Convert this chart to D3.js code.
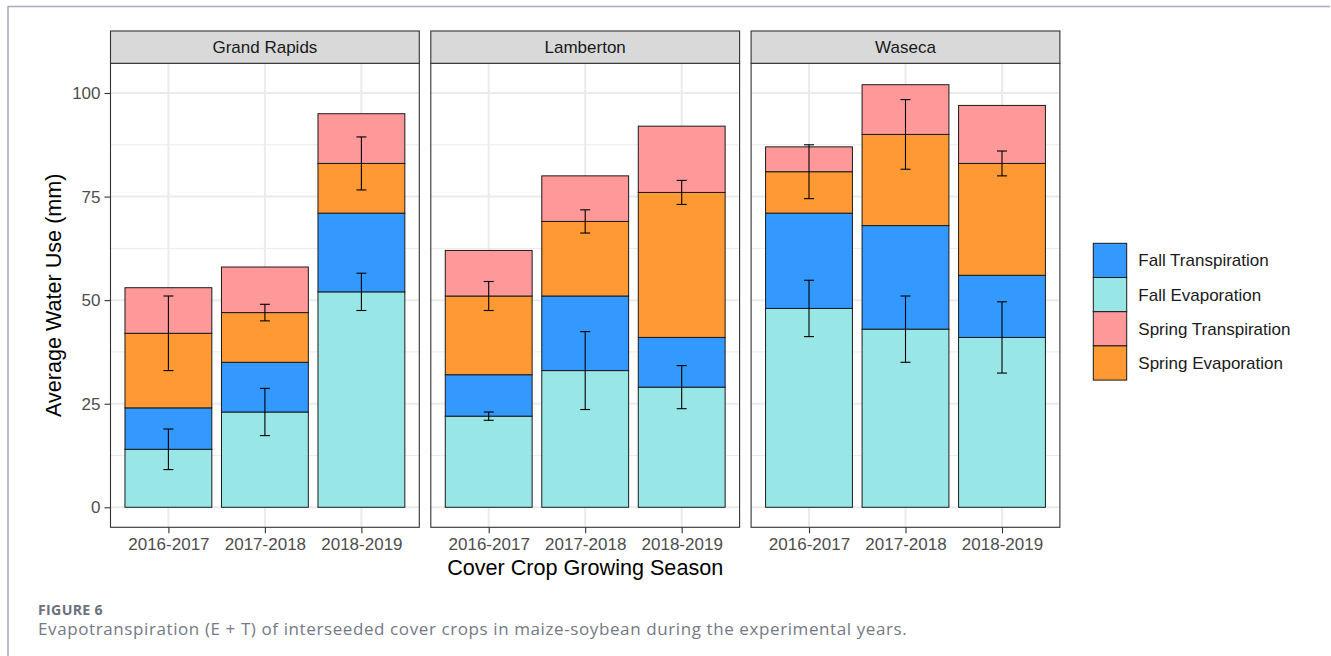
<!DOCTYPE html>
<html>
<head>
<meta charset="utf-8">
<script src="https://cdn.jsdelivr.net/npm/d3@7"></script>
<style>
  body { margin: 0; background: #fff; }
  svg text { font-family: "Liberation Sans", Arial, sans-serif; }
  svg text.caption { font-family: "Open Sans", sans-serif; }
</style>
</head>
<body>
<svg id="chart"></svg>
<script>
let width = 1331;
let height = 656;

// facets and categories
let sites = ["Grand Rapids", "Lamberton", "Waseca"];
let seasons = ["2016-2017", "2017-2018", "2018-2019"];

// stacked components, bottom to top; values listed site by site, season by season
let fallEvap     = [14, 23, 52,  22, 33, 29,  48, 43, 41];
let fallTransp   = [10, 12, 19,  10, 18, 12,  23, 25, 15];
let springEvap   = [18, 12, 12,  19, 18, 35,  10, 22, 27];
let springTransp = [11, 11, 12,  11, 11, 16,   6, 12, 14];

// error bar half widths (fall one sits on Fall Evaporation, spring one on Spring Evaporation)
let fallErr   = [4.9, 5.7, 4.5,  1.0, 9.4, 5.2,  6.8, 8.0, 8.6];
let springErr = [9.0, 2.0, 6.4,  3.5, 2.8, 2.9,  6.5, 8.4, 3.0];

let stackKeys = ["Fall Evaporation", "Fall Transpiration", "Spring Evaporation", "Spring Transpiration"];
let legendKeys = ["Fall Transpiration", "Fall Evaporation", "Spring Transpiration", "Spring Evaporation"];
let colors = ["#99e6e6", "#3399ff", "#ff9933", "#ff9999"];
let yTicks = [0, 25, 50, 75, 100];
let yMinor = [12.5, 37.5, 62.5, 87.5];

let table = [];
sites.forEach((s, i) => seasons.forEach((y, j) => {
  let k = i * 3 + j;
  table.push({
    site: s, season: y,
    "Fall Evaporation": fallEvap[k],
    "Fall Transpiration": fallTransp[k],
    "Spring Evaporation": springEvap[k],
    "Spring Transpiration": springTransp[k],
    fallErr: fallErr[k], springErr: springErr[k]
  });
}));

let series = d3.stack().keys(stackKeys)(table);
let color = d3.scaleOrdinal().domain(stackKeys).range(colors);

let svg = d3.select('#chart')
  .attr('width', width)
  .attr('height', height);

// page frame
svg.append('path')
  .attr('d', 'M8,656 V6.5 H1330')
  .attr('fill', 'none')
  .attr('stroke', '#a9a9b8')
  .attr('stroke-width', 1.5);

let panelTop = 63.3, panelBottom = 527.3, stripTop = 31;
let panelLeft = 110.5, panelW = 308.8, panelGap = 11.5;

let yax = d3.scaleLinear()
  .domain([-4.83, 107.17])
  .range([panelBottom, panelTop]);

let xFacet = d3.scaleBand()
  .domain(sites)
  .range([panelLeft, panelLeft + 3 * panelW + 2 * panelGap])
  .paddingInner(panelGap / (panelW + panelGap));

sites.forEach(site => {
  let x0 = xFacet(site);
  let xax = d3.scaleLinear().domain([0.4, 3.6]).range([x0, x0 + panelW]);
  let xpos = d => xax(seasons.indexOf(d) + 1);
  let g = svg.append('g');

  // grid
  g.selectAll('.minor').data(yMinor).join('line')
    .attr('x1', x0).attr('x2', x0 + panelW)
    .attr('y1', d => yax(d)).attr('y2', d => yax(d))
    .attr('stroke', '#ebebeb').attr('stroke-width', 1);
  g.selectAll('.major').data(yTicks).join('line')
    .attr('x1', x0).attr('x2', x0 + panelW)
    .attr('y1', d => yax(d)).attr('y2', d => yax(d))
    .attr('stroke', '#ebebeb').attr('stroke-width', 2);
  g.selectAll('.vgrid').data(seasons).join('line')
    .attr('x1', xpos).attr('x2', xpos)
    .attr('y1', panelTop).attr('y2', panelBottom)
    .attr('stroke', '#ebebeb').attr('stroke-width', 2);

  // bars
  let bw = xax(1.9) - xax(1);
  series.forEach(ser => {
    g.selectAll(null)
      .data(ser.filter(d => d.data.site === site))
      .join('rect')
      .attr('x', d => xpos(d.data.season) - bw / 2)
      .attr('width', bw)
      .attr('y', d => yax(d[1]))
      .attr('height', d => yax(d[0]) - yax(d[1]))
      .attr('fill', color(ser.key))
      .attr('stroke', '#1a1a1a')
      .attr('stroke-width', 1);
  });

  // error bars
  let rows = table.filter(d => d.site === site);
  let errs = [];
  rows.forEach(d => {
    let fe = d["Fall Evaporation"];
    let se = fe + d["Fall Transpiration"] + d["Spring Evaporation"];
    errs.push({season: d.season, lo: fe - d.fallErr, hi: fe + d.fallErr});
    errs.push({season: d.season, lo: se - d.springErr, hi: se + d.springErr});
  });
  let cap = 5;
  let eg = g.selectAll('.err').data(errs).join('g');
  eg.append('line')
    .attr('x1', d => xpos(d.season)).attr('x2', d => xpos(d.season))
    .attr('y1', d => yax(d.lo)).attr('y2', d => yax(d.hi));
  eg.append('line')
    .attr('x1', d => xpos(d.season) - cap).attr('x2', d => xpos(d.season) + cap)
    .attr('y1', d => yax(d.lo)).attr('y2', d => yax(d.lo));
  eg.append('line')
    .attr('x1', d => xpos(d.season) - cap).attr('x2', d => xpos(d.season) + cap)
    .attr('y1', d => yax(d.hi)).attr('y2', d => yax(d.hi));
  eg.selectAll('line').attr('stroke', '#000').attr('stroke-width', 1.1);

  // panel border
  g.append('rect')
    .attr('x', x0).attr('y', panelTop)
    .attr('width', panelW).attr('height', panelBottom - panelTop)
    .attr('fill', 'none').attr('stroke', '#333').attr('stroke-width', 1.1);

  // strip
  g.append('rect')
    .attr('x', x0).attr('y', stripTop)
    .attr('width', panelW).attr('height', panelTop - stripTop)
    .attr('fill', '#d9d9d9').attr('stroke', '#333').attr('stroke-width', 1.1);
  g.append('text')
    .attr('x', x0 + panelW / 2).attr('y', (stripTop + panelTop) / 2)
    .attr('dy', '0.35em')
    .attr('text-anchor', 'middle')
    .attr('font-size', 17)
    .attr('fill', '#1a1a1a')
    .text(site);

  // x axis
  let xAxis = g.append('g')
    .attr('transform', `translate(0,${panelBottom})`)
    .call(d3.axisBottom(d3.scalePoint().domain(seasons).range([xax(1), xax(3)]))
      .tickSize(6).tickPadding(5));
  xAxis.select('.domain').remove();
  xAxis.selectAll('line').attr('stroke', '#333').attr('stroke-width', 1.1);
  xAxis.selectAll('text').attr('font-size', 17).attr('fill', '#4d4d4d')
    .attr('font-family', null);
});

// y axis
let yAxis = svg.append('g')
  .attr('transform', `translate(${panelLeft},0)`)
  .call(d3.axisLeft(yax).tickValues(yTicks).tickSize(6).tickPadding(4));
yAxis.select('.domain').remove();
yAxis.selectAll('line').attr('stroke', '#333').attr('stroke-width', 1.1);
yAxis.selectAll('text').attr('font-size', 17).attr('fill', '#4d4d4d');

// axis titles
svg.append('text')
  .attr('transform', `translate(61,${(panelTop + panelBottom) / 2}) rotate(-90)`)
  .attr('text-anchor', 'middle')
  .attr('font-size', 21.6)
  .attr('fill', '#000')
  .text('Average Water Use (mm)');

svg.append('text')
  .attr('x', (panelLeft + xFacet('Waseca') + panelW) / 2)
  .attr('y', 575)
  .attr('text-anchor', 'middle')
  .attr('font-size', 21.6)
  .attr('fill', '#000')
  .text('Cover Crop Growing Season');

// legend
let keyW = 33.4, keyH = 34.2, legX = 1093.3, legY = 243.3;
let leg = svg.append('g').selectAll('g').data(legendKeys).join('g')
  .attr('transform', (d, i) => `translate(${legX},${legY + i * keyH})`);
leg.append('rect')
  .attr('width', keyW).attr('height', keyH)
  .attr('fill', d => color(d))
  .attr('stroke', '#1a1a1a').attr('stroke-width', 1);
leg.append('text')
  .attr('x', 45).attr('y', keyH / 2).attr('dy', '0.35em')
  .attr('font-size', 17).attr('fill', '#1a1a1a')
  .text(d => d);

// caption
svg.append('text')
  .attr('class', 'caption')
  .attr('x', 38).attr('y', 615)
  .attr('font-size', 14.2).attr('font-weight', 700)
  .attr('letter-spacing', 0.3)
  .attr('fill', '#6b717d')
  .text('FIGURE 6');
svg.append('text')
  .attr('class', 'caption')
  .attr('x', 38).attr('y', 635)
  .attr('font-size', 17)
  .attr('letter-spacing', 0.6)
  .attr('fill', '#737985')
  .text('Evapotranspiration (E + T) of interseeded cover crops in maize-soybean during the experimental years.');
</script>
</body>
</html>
